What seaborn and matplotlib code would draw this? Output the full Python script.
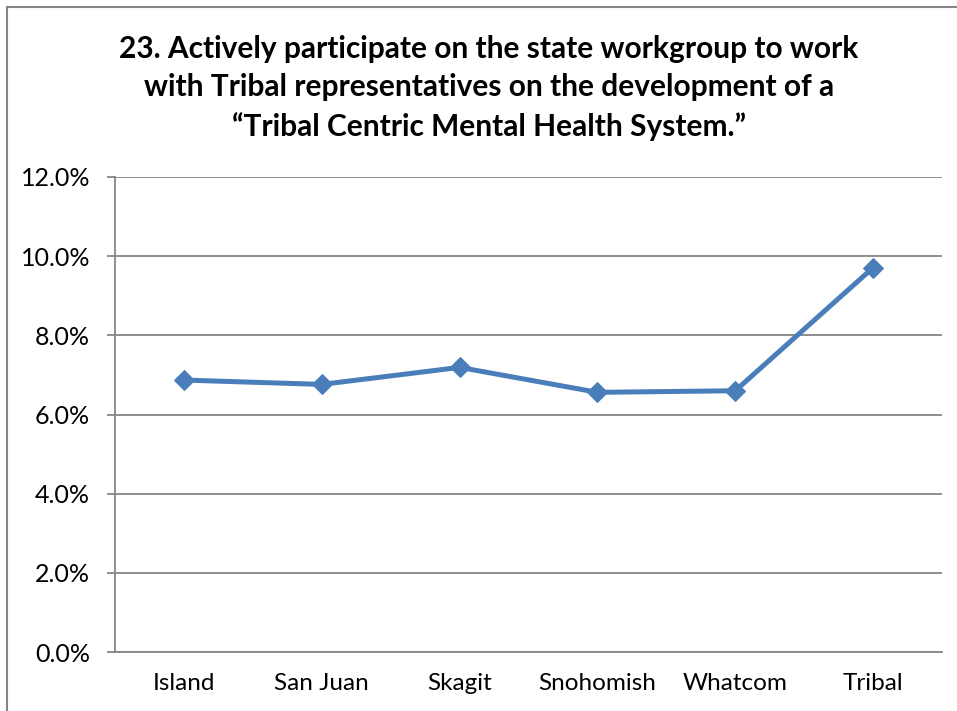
import matplotlib
matplotlib.use("Agg")
import matplotlib.pyplot as plt
import matplotlib.patches as mpatches
from matplotlib.ticker import FuncFormatter, MultipleLocator
import seaborn as sns
import pandas as pd

counties = ["Island", "San Juan", "Skagit", "Snohomish", "Whatcom", "Tribal"]
rates = [0.0687, 0.0676, 0.0719, 0.0656, 0.0660, 0.0971]
title = ("23. Actively participate on the state workgroup to work\n"
         "with Tribal representatives on the development of a\n"
         "\u201cTribal Centric Mental Health System.\u201d")

sns.set_theme(style="white")
plt.rcParams["font.family"] = ["Lato", "DejaVu Sans"]

df = pd.DataFrame({"county": counties, "rate": rates})

W, H, DPI = 957, 711, 100
fig = plt.figure(figsize=(W / DPI, H / DPI), dpi=DPI)
fig.patch.set_facecolor("white")

# outer chart frame
fig.add_artist(mpatches.Rectangle((7 / W, -0.01), 1.0, 1 - 7 / H + 0.01,
                                  transform=fig.transFigure, fill=False,
                                  edgecolor="#868686", linewidth=1.5))

left, right, top, bottom = 115, 942, 177, 652
ax = fig.add_axes([left / W, 1 - bottom / H, (right - left) / W, (bottom - top) / H])

grid_c = "#868686"
sns.lineplot(data=df, x="county", y="rate", ax=ax, color="#4A7EBB",
             linewidth=3.6, marker="D", markersize=10,
             markeredgecolor="#4A7EBB", sort=False)

ax.set_xlim(-0.5, len(counties) - 0.5)
ax.set_ylim(0, 0.12)
ax.yaxis.set_major_locator(MultipleLocator(0.02))
ax.yaxis.set_major_formatter(FuncFormatter(lambda v, p: f"{v * 100:.1f}%"))
ax.grid(axis="y", color=grid_c, linewidth=1.3)
ax.set_axisbelow(True)
ax.set_xlabel("")
ax.set_ylabel("")

for side in ("top", "right"):
    ax.spines[side].set_visible(False)
for side in ("left", "bottom"):
    ax.spines[side].set_color(grid_c)
    ax.spines[side].set_linewidth(1.3)

ax.set_xticks(range(len(counties)))
ax.set_xticklabels(counties)
ax.set_xticks([i - 0.5 for i in range(len(counties) + 1)], minor=True)
ax.tick_params(axis="x", which="major", length=0, pad=15, labelsize=17.5, colors="black")
ax.tick_params(axis="x", which="minor", length=6, width=1.3, color=grid_c, direction="out")
ax.tick_params(axis="y", length=6, width=1.3, color=grid_c, direction="out",
               labelsize=18, pad=12, left=True, labelcolor="black")
for t in ax.get_xticklabels() + ax.get_yticklabels():
    t.set_color("black")

fig.text(489 / W, 1 - 88 / H, title, ha="center", va="center",
         fontsize=21.5, fontweight="bold", linespacing=1.45, color="black")

fig.savefig("out.png", dpi=DPI)
